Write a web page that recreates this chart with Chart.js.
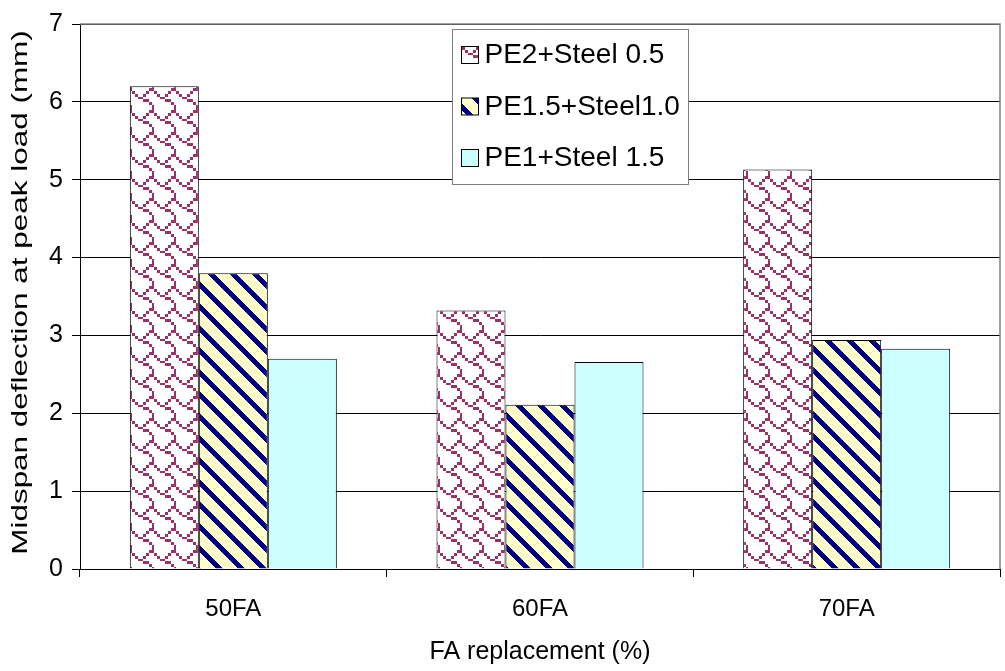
<!DOCTYPE html>
<html>
<head>
<meta charset="utf-8">
<script src="https://cdn.jsdelivr.net/npm/chart.js@4.4.1/dist/chart.umd.min.js"></script>
<style>
  html, body { margin: 0; padding: 0; background: #fff; }
  #wrap { width: 1005px; height: 671px; }
</style>
</head>
<body>
<div id="wrap"><canvas id="myChart" width="1005" height="671"></canvas></div>
<script>
// data
const categories = ['50FA', '60FA', '70FA'];
const seriesNames = ['PE2+Steel 0.5', 'PE1.5+Steel1.0', 'PE1+Steel 1.5'];
const pe2Steel05 = [6.2, 3.32, 5.13];
const pe15Steel10 = [3.8, 2.11, 2.94];
const pe1Steel15 = [2.7, 2.66, 2.83];
const yTicks = [0, 1, 2, 3, 4, 5, 6, 7];
const yTitle = 'Midspan deflection at peak load (mm)';
const xTitle = 'FA replacement (%)';

const FONT = "'Liberation Sans', Arial, sans-serif";

// 8x8 hatch bitmaps, scaled up like the original picture
function hatch(rows, fg, bg, size) {
    const c = document.createElement('canvas');
    c.width = size;
    c.height = size;
    const g = c.getContext('2d');
    g.fillStyle = bg;
    g.fillRect(0, 0, size, size);
    g.fillStyle = fg;
    for (let y = 0; y < size; y++) {
        for (let x = 0; x < size; x++) {
            const cy = Math.floor(y * 8 / size);
            const cx = Math.floor(x * 8 / size);
            if (rows[cy] & (0x80 >> cx)) g.fillRect(x, y, 1, 1);
        }
    }
    return g.createPattern(c, 'repeat');
}

function stripes(fg, bg, size, band) {
    const c = document.createElement('canvas');
    c.width = size;
    c.height = size;
    const g = c.getContext('2d');
    g.fillStyle = bg;
    g.fillRect(0, 0, size, size);
    g.fillStyle = fg;
    for (let y = 0; y < size; y++) {
        for (let x = 0; x < size; x++) {
            if (((x - y) % size + size) % size < band) g.fillRect(x, y, 1, 1);
        }
    }
    return g.createPattern(c, 'repeat');
}

const shingle = hatch([0x03, 0x84, 0x48, 0x30, 0x0c, 0x02, 0x01, 0x01], '#993366', '#ffffff', 22);
const diag = stripes('#000080', '#ffffcc', 22, 7);
const cyan = '#ccffff';

// legend box inside the plot, top centre
const boxLegend = {
    id: 'boxLegend',
    afterDatasetsDraw(chart) {
        const ctx = chart.ctx;
        const area = chart.chartArea;
        const w = 236, h = 155, rowH = 51.5;
        const x0 = Math.round(area.left + (area.right - area.left) / 2 - 88) + 0.5;
        const y0 = area.top + 5.5;
        ctx.save();
        ctx.fillStyle = '#fff';
        ctx.fillRect(x0, y0, w, h);
        ctx.strokeStyle = '#808080';
        ctx.lineWidth = 1;
        ctx.strokeRect(x0, y0, w, h);
        ctx.font = '28px ' + FONT;
        ctx.textBaseline = 'middle';
        ctx.textAlign = 'left';
        chart.data.datasets.forEach((ds, i) => {
            const cy = y0 + 25 + i * rowH;
            ctx.fillStyle = ds.backgroundColor;
            ctx.fillRect(x0 + 9, cy - 8, 17, 17);
            ctx.strokeStyle = '#000';
            ctx.strokeRect(x0 + 9, cy - 8, 17, 17);
            ctx.fillStyle = '#000';
            ctx.fillText(ds.label, x0 + 32, cy + 1);
        });
        ctx.restore();
    }
};

// grey frame on top and right of the plot area, plus the stretched y title
const plotFrame = {
    id: 'plotFrame',
    beforeDatasetsDraw(chart) {
        const ctx = chart.ctx;
        const a = chart.chartArea;
        ctx.save();
        ctx.strokeStyle = '#808080';
        ctx.lineWidth = 1.5;
        ctx.beginPath();
        ctx.moveTo(a.left, a.top);
        ctx.lineTo(a.right, a.top);
        ctx.lineTo(a.right, a.bottom);
        ctx.stroke();
        ctx.restore();

        ctx.save();
        ctx.translate(21, (a.top + a.bottom) / 2 - 4);
        ctx.rotate(-Math.PI / 2);
        ctx.scale(1.43, 1);
        ctx.font = '22px ' + FONT;
        ctx.fillStyle = '#000';
        ctx.textAlign = 'center';
        ctx.textBaseline = 'middle';
        ctx.fillText(yTitle, 0, 0);
        ctx.restore();
    }
};

const ctx = document.getElementById('myChart');

let myChart = new Chart(ctx, {
    type: 'bar',
    data: {
        labels: categories,
        datasets: [{
            label: seriesNames[0],
            data: pe2Steel05,
            backgroundColor: shingle,
        },
        {
            label: seriesNames[1],
            data: pe15Steel10,
            backgroundColor: diag,
        },
        {
            label: seriesNames[2],
            data: pe1Steel15,
            backgroundColor: cyan,
        }]
    },
    options: {
        responsive: false,
        animation: false,
        layout: {
            padding: { top: 20, right: 5, left: 0, bottom: 0 }
        },
        datasets: {
            bar: {
                borderColor: '#000',
                borderWidth: 1,
                categoryPercentage: 0.675,
                barPercentage: 1,
            }
        },
        plugins: {
            legend: { display: false },
            tooltip: { enabled: false },
        },
        scales: {
            y: {
                min: 0,
                max: 7,
                afterBuildTicks: (axis) => {
                    axis.ticks = yTicks.map(v => ({ value: v }));
                },
                afterFit: (axis) => { axis.width = 80; },
                grid: {
                    color: '#000',
                    lineWidth: 1,
                    tickLength: 8,
                },
                border: { color: '#000', width: 1 },
                ticks: {
                    color: '#000',
                    padding: 9,
                    font: { family: FONT, size: 25 },
                }
            },
            x: {
                afterFit: (axis) => { axis.height = 102; },
                grid: {
                    drawOnChartArea: false,
                    drawTicks: true,
                    tickLength: 8,
                    color: '#000',
                },
                border: { color: '#000', width: 1 },
                ticks: {
                    color: '#000',
                    padding: 18,
                    font: { family: FONT, size: 24 },
                },
                title: {
                    display: true,
                    text: xTitle,
                    color: '#000',
                    padding: { top: 11 },
                    font: { family: FONT, size: 25 },
                }
            }
        }
    },
    plugins: [plotFrame, boxLegend]
});
</script>
</body>
</html>
